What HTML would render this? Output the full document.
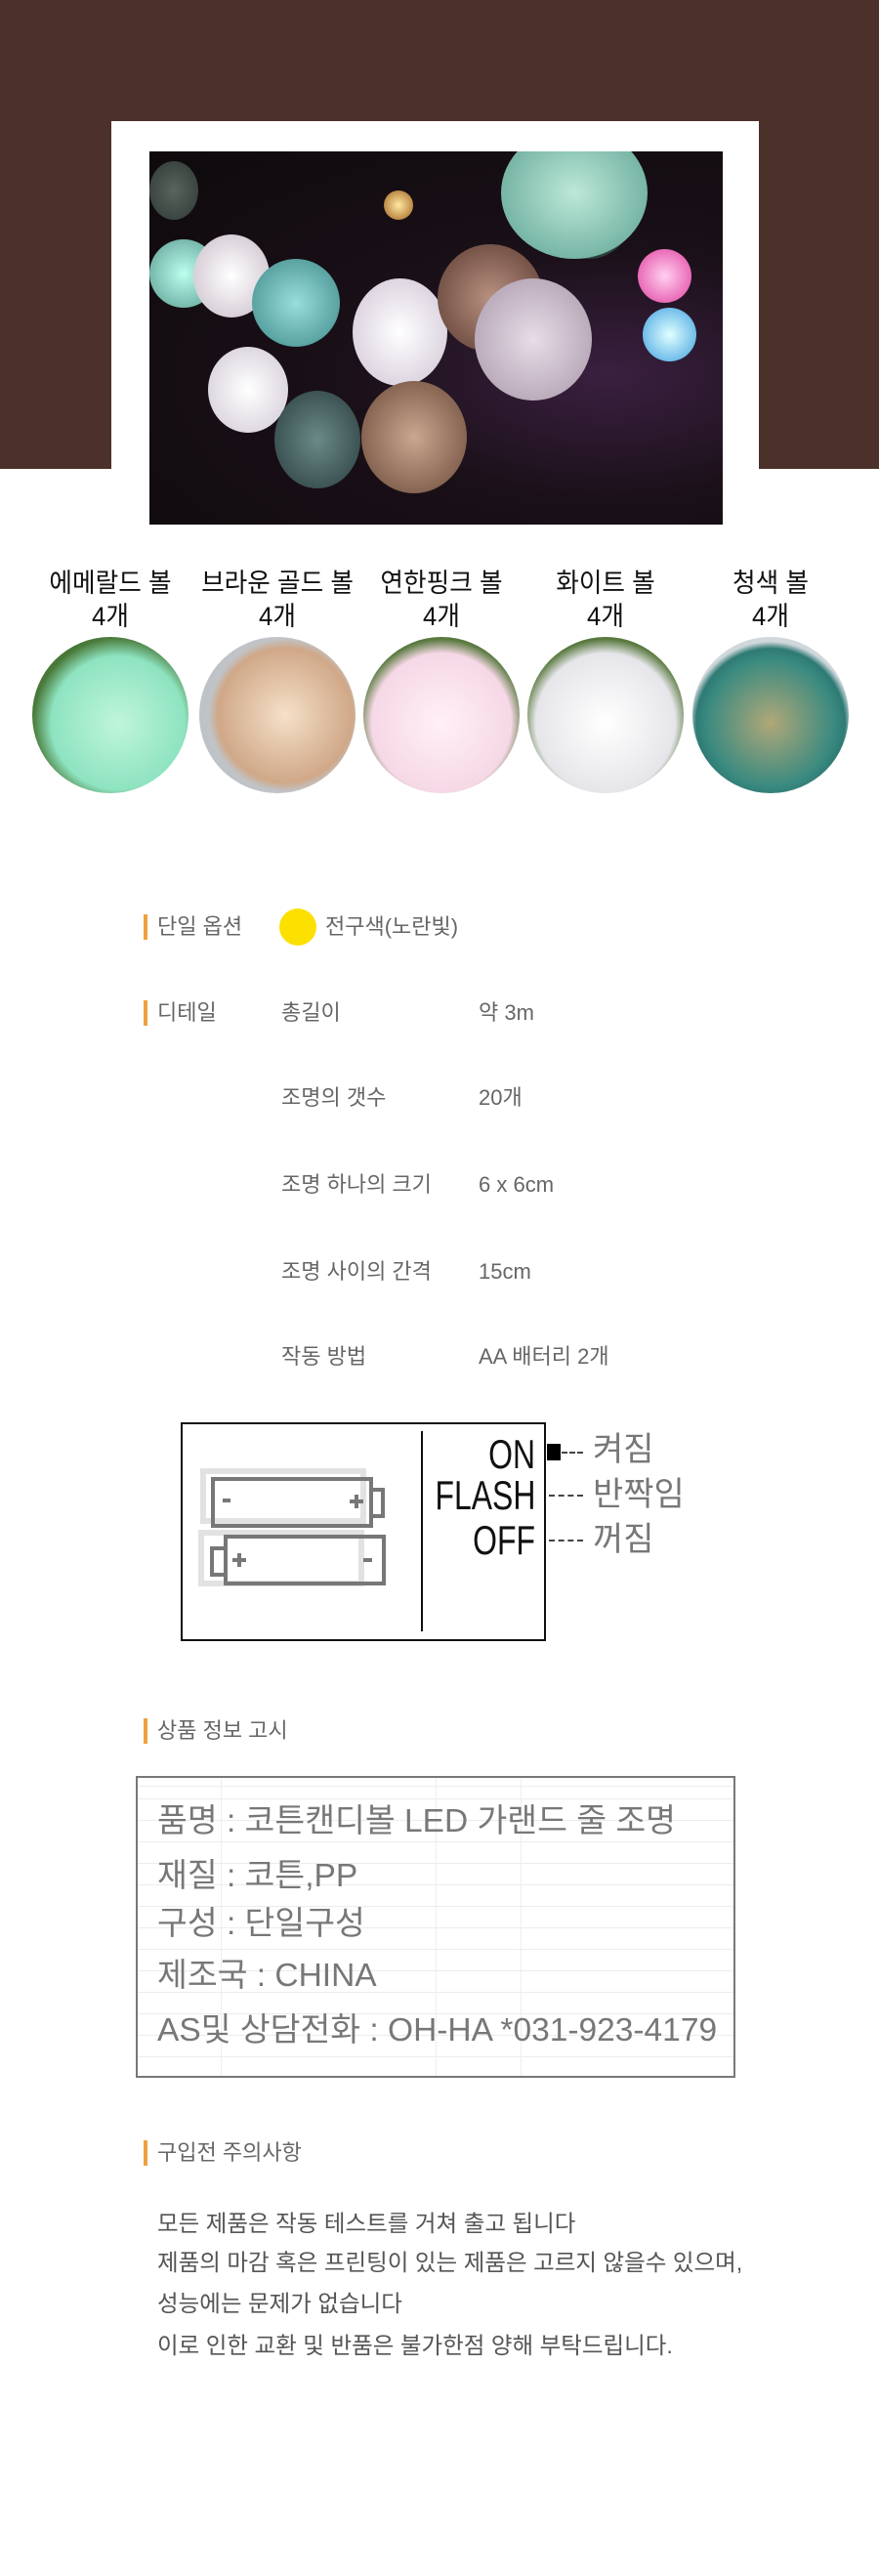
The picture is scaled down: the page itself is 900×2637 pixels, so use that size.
<!DOCTYPE html>
<html><head><meta charset="utf-8">
<style>
*{margin:0;padding:0;box-sizing:border-box}
body{width:900px;height:2637px;background:#fff;position:relative;overflow:hidden;font-family:"Liberation Sans","Noto Sans CJK KR",sans-serif}
.a{position:absolute}
.band{left:0;top:0;width:900px;height:480px;background:#4b3129}
.frame{left:114px;top:124px;width:663px;height:420px;background:#fff}
.photo{left:153px;top:155px;width:587px;height:382px;background:radial-gradient(ellipse at 80% 60%,#3a2040 0%,#1a1018 40%,#0e0a0c 100%);overflow:hidden}
.ball{position:absolute;border-radius:50%}
.lbl{position:absolute;width:170px;text-align:center;color:#111;font-size:27px;line-height:34px;transform:scaleX(.95)}
.circ{position:absolute;top:652px;width:160px;height:160px;border-radius:50%;overflow:hidden}
.hd{position:absolute;left:147px;width:4px;height:26px;background:#f0a040}
.t{position:absolute;color:#666;font-size:22px;line-height:26px;white-space:nowrap}
.sw{position:absolute;font-size:42px;line-height:42px;color:#111;transform-origin:right center;transform:scaleX(.76);text-align:right;white-space:nowrap}
.kr{position:absolute;font-size:34px;line-height:36px;color:#777;white-space:nowrap}
.dash{position:absolute;border-top:2px dashed #444;height:0}
.info{position:absolute;left:161px;color:#777;font-size:33.5px;line-height:36px;white-space:nowrap}
.p{position:absolute;left:161px;color:#555;font-size:23.5px;line-height:28px;white-space:nowrap}
</style></head><body>
<div class="a band"></div>
<div class="a frame"></div>
<div class="a photo">
 <div class="ball" style="left:0;top:10px;width:50px;height:60px;background:radial-gradient(#7a8a80,#3a4a44);opacity:.7"></div>
 <div class="ball" style="left:0;top:90px;width:70px;height:70px;background:radial-gradient(#bfe,#5a9a90)"></div>
 <div class="ball" style="left:45px;top:85px;width:78px;height:85px;background:radial-gradient(#fff,#c8bcc8)"></div>
 <div class="ball" style="left:105px;top:110px;width:90px;height:90px;background:radial-gradient(#9dd,#3e8a88)"></div>
 <div class="ball" style="left:60px;top:200px;width:82px;height:88px;background:radial-gradient(#fff,#d0c8d4)"></div>
 <div class="ball" style="left:128px;top:245px;width:88px;height:100px;background:radial-gradient(#6a8a88,#2a3c3e)"></div>
 <div class="ball" style="left:208px;top:130px;width:97px;height:110px;background:radial-gradient(#fff,#cfc4d4)"></div>
 <div class="ball" style="left:217px;top:235px;width:108px;height:115px;background:radial-gradient(#c9a890,#6a4838)"></div>
 <div class="ball" style="left:295px;top:95px;width:108px;height:110px;background:radial-gradient(#b89080,#5a3a30)"></div>
 <div class="ball" style="left:333px;top:130px;width:120px;height:125px;background:radial-gradient(#e8dce8,#a898a8)"></div>
 <div class="ball" style="left:400px;top:-10px;width:100px;height:120px;background:radial-gradient(#4a6a60,#1e2e2a)"></div>
 <div class="ball" style="left:360px;top:-25px;width:150px;height:135px;background:radial-gradient(#bde8d8,#5aa090)"></div>
 <div class="ball" style="left:500px;top:100px;width:55px;height:55px;background:radial-gradient(#ffd0f0,#e040a0)"></div>
 <div class="ball" style="left:505px;top:160px;width:55px;height:55px;background:radial-gradient(#e0ffff,#40a0e0)"></div>
 <div class="ball" style="left:240px;top:40px;width:30px;height:30px;background:radial-gradient(#ffe8a0,#a06020)"></div>
</div>

<div class="lbl" style="left:28px;top:580px">에메랄드 볼<br>4개</div>
<div class="lbl" style="left:199px;top:580px">브라운 골드 볼<br>4개</div>
<div class="lbl" style="left:367px;top:580px">연한핑크 볼<br>4개</div>
<div class="lbl" style="left:535px;top:580px">화이트 볼<br>4개</div>
<div class="lbl" style="left:704px;top:580px">청색 볼<br>4개</div>
<div class="circ" style="left:33px;background:radial-gradient(circle at 55% 55%,#bff5dc 0%,#8ee3c0 55%,#4a7a3a 70%,#2e4a22 100%)"></div>
<div class="circ" style="left:204px;background:radial-gradient(circle at 55% 50%,#f5e0c8 0%,#d0a888 58%,#c0c4c8 66%,#b8bcc0 100%)"></div>
<div class="circ" style="left:372px;background:radial-gradient(circle at 50% 55%,#fff0f6 0%,#f6d8e6 60%,#5a7a40 72%,#334a22 100%)"></div>
<div class="circ" style="left:540px;background:radial-gradient(circle at 50% 55%,#ffffff 0%,#e6e6ea 60%,#5a7a40 72%,#334a22 100%)"></div>
<div class="circ" style="left:709px;background:radial-gradient(circle at 50% 55%,#b0a878 0%,#3a8a80 55%,#2e7a74 64%,#d0d8dc 70%,#c8d0d4 100%)"></div>

<div class="hd" style="top:936px"></div>
<div class="t" style="left:161px;top:936px">단일 옵션</div>
<div class="a" style="left:286px;top:930px;width:38px;height:38px;border-radius:50%;background:#fce000"></div>
<div class="t" style="left:333px;top:936px">전구색(노란빛)</div>

<div class="hd" style="top:1024px"></div>
<div class="t" style="left:161px;top:1024px">디테일</div>
<div class="t" style="left:288px;top:1024px">총길이</div><div class="t" style="left:490px;top:1024px">약 3m</div>
<div class="t" style="left:288px;top:1111px">조명의 갯수</div><div class="t" style="left:490px;top:1111px">20개</div>
<div class="t" style="left:288px;top:1200px">조명 하나의 크기</div><div class="t" style="left:490px;top:1200px">6 x 6cm</div>
<div class="t" style="left:288px;top:1289px">조명 사이의 간격</div><div class="t" style="left:490px;top:1289px">15cm</div>
<div class="t" style="left:288px;top:1376px">작동 방법</div><div class="t" style="left:490px;top:1376px">AA 배터리 2개</div>

<div class="a" style="left:185px;top:1456px;width:374px;height:224px;border:2px solid #111"></div>
<div class="a" style="left:431px;top:1465px;width:2px;height:205px;background:#111"></div>
<svg class="a" style="left:200px;top:1500px" width="210" height="135">
 <g fill="none" stroke="#e2e2e2" stroke-width="6">
  <rect x="8" y="6" width="164" height="51"/><rect x="6" y="69" width="164" height="52"/>
 </g>
 <g fill="none" stroke="#777" stroke-width="4">
  <rect x="18" y="14" width="162" height="48"/><rect x="180" y="25" width="12" height="27"/>
  <rect x="31" y="73" width="162" height="48"/><rect x="17" y="85" width="14" height="27"/>
 </g>
 <g stroke="#777" stroke-width="4">
  <line x1="28" y1="36" x2="36" y2="36"/><line x1="158" y1="37" x2="172" y2="37"/><line x1="165" y1="30" x2="165" y2="44"/>
  <line x1="38" y1="97" x2="52" y2="97"/><line x1="45" y1="90" x2="45" y2="104"/><line x1="172" y1="97" x2="181" y2="97"/>
 </g>
</svg>
<div class="sw" style="right:352px;top:1468px">ON</div>
<div class="sw" style="right:352px;top:1510px">FLASH</div>
<div class="sw" style="right:352px;top:1556px">OFF</div>
<div class="a" style="left:560px;top:1478px;width:14px;height:17px;background:#000"></div>
<div class="dash" style="left:575px;top:1486px;width:22px"></div>
<div class="dash" style="left:562px;top:1530px;width:35px"></div>
<div class="dash" style="left:562px;top:1576px;width:35px"></div>
<div class="kr" style="left:607px;top:1466px">켜짐</div>
<div class="kr" style="left:607px;top:1512px">반짝임</div>
<div class="kr" style="left:607px;top:1558px">꺼짐</div>

<div class="hd" style="top:1759px"></div>
<div class="t" style="left:161px;top:1759px">상품 정보 고시</div>
<div class="a" style="left:139px;top:1818px;width:614px;height:309px;border:2px solid #777;background:
 linear-gradient(#eee,#eee) 0 8px/100% 1px no-repeat,
 repeating-linear-gradient(to bottom,transparent 0,transparent 21px,#ececec 21px,#ececec 22px);"></div>
<div class="a" style="left:226px;top:1820px;width:1px;height:305px;background:#eee"></div>
<div class="a" style="left:446px;top:1820px;width:1px;height:305px;background:#eee"></div>
<div class="a" style="left:533px;top:1820px;width:1px;height:305px;background:#eee"></div>
<div class="info" style="top:1847px">품명 : 코튼캔디볼 LED 가랜드 줄 조명</div>
<div class="info" style="top:1903px">재질 : 코튼,PP</div>
<div class="info" style="top:1952px">구성 : 단일구성</div>
<div class="info" style="top:2005px">제조국 : CHINA</div>
<div class="info" style="top:2061px">AS및 상담전화 : OH-HA *031-923-4179</div>

<div class="hd" style="top:2191px"></div>
<div class="t" style="left:161px;top:2191px">구입전 주의사항</div>
<div class="p" style="top:2262px">모든 제품은 작동 테스트를 거쳐 출고 됩니다</div>
<div class="p" style="top:2302px">제품의 마감 혹은 프린팅이 있는 제품은 고르지 않을수 있으며,</div>
<div class="p" style="top:2344px">성능에는 문제가 없습니다</div>
<div class="p" style="top:2387px">이로 인한 교환 및 반품은 불가한점 양해 부탁드립니다.</div>
</body></html>
